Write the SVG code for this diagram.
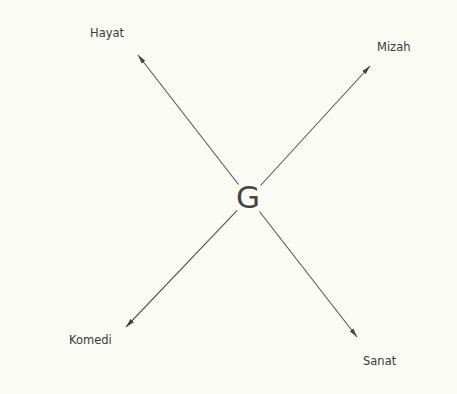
<svg xmlns="http://www.w3.org/2000/svg" width="457" height="394" viewBox="0 0 457 394">
<style>
.lbl{font-family:"DejaVu Sans","Liberation Sans",sans-serif;font-size:11.5px;fill:#3a3a3a}
.ln{stroke:#555;stroke-width:1.1;fill:none;marker-end:url(#ah)}
</style>
<defs>
<marker id="ah" markerWidth="10" markerHeight="6" refX="9" refY="3" orient="auto" markerUnits="userSpaceOnUse">
<path d="M0,0.6 L9,3 L0,5.4 Z" fill="#444"/>
</marker>
</defs>
<rect width="457" height="394" fill="#fbfbf6"/>
<g id="connectors">
<line class="ln" x1="238.5" y1="184.5" x2="138" y2="55"/>
<line class="ln" x1="259.5" y1="211.5" x2="357" y2="337"/>
<line class="ln" x1="260.5" y1="185.5" x2="370" y2="66"/>
<line class="ln" x1="237.2" y1="210.3" x2="126" y2="327"/>
</g>
<g id="G"><text x="248" y="208" text-anchor="middle" style="font-family:'DejaVu Sans','Liberation Sans',sans-serif;font-size:31px;fill:#444">G</text></g>
<g id="Hayat"><text class="lbl" x="90" y="37">Hayat</text></g>
<g id="Mizah"><text class="lbl" x="377" y="51">Mizah</text></g>
<g id="Komedi"><text class="lbl" x="69" y="344">Komedi</text></g>
<g id="Sanat"><text class="lbl" x="363" y="365">Sanat</text></g>
</svg>
